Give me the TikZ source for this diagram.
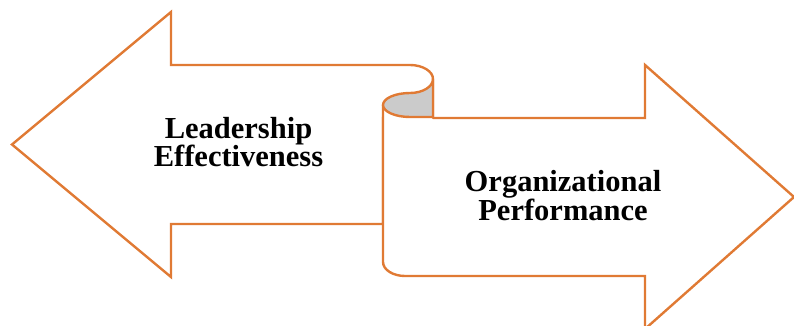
\documentclass[tikz,border=0pt]{standalone}
\usepackage{fontspec}
\setmainfont{Liberation Serif}
\usepackage{xcolor}
\usepackage{tikz}
\definecolor{ribbon}{HTML}{E07A34}
\definecolor{curl}{HTML}{CBCBCB}
\definecolor{ink}{HTML}{000000}
\tikzset{
  edge/.style={draw=ribbon, line width=2.4pt, line cap=round, line join=miter},
  shade/.style={fill=curl, draw=ribbon, line width=2.4pt, line join=round},
  lab/.style={text=ink, font=\bfseries\fontsize{30.5}{28.5}\selectfont, align=center, inner sep=0pt}
}

\begin{document}
\begin{tikzpicture}[x=1pt, y=-1pt]
  \useasboundingbox (0,0) rectangle (794,326);
  % left arrow
  \coordinate (tipL) at (12,144.5);
  \coordinate (joinL) at (383,224);
  \draw[edge, fill=white] (joinL) -- (171,224) -- (171,277) -- (tipL)
    -- (171,12) -- (171,65) -- (410,65)
    .. controls (422.7,65) and (433,71.3) .. (433,79) -- (433,118) -- (383,118) -- (383,224);
  % right arrow
  \coordinate (tipR) at (794,197);
  \draw[edge, fill=white] (383,105) -- (383,262)
    .. controls (383,269.7) and (392.9,276) .. (405,276)
    -- (645,276) -- (645,329) -- (tipR) -- (645,65) -- (645,118) -- (433,118);
  % curl of the ribbon
  \draw[shade] (433,79) .. controls (433,86.7) and (422.7,93) .. (410,93)
    .. controls (395.1,93) and (383,98.4) .. (383,105)
    .. controls (383,111.6) and (395.1,117) .. (410,117) -- (433,117) -- cycle;
  \node[lab] (lead) at (238.5,142) {Leadership\\Effectiveness};
  \node[lab] (perf) at (563,195.5) {Organizational\\Performance};
\end{tikzpicture}
\end{document}
